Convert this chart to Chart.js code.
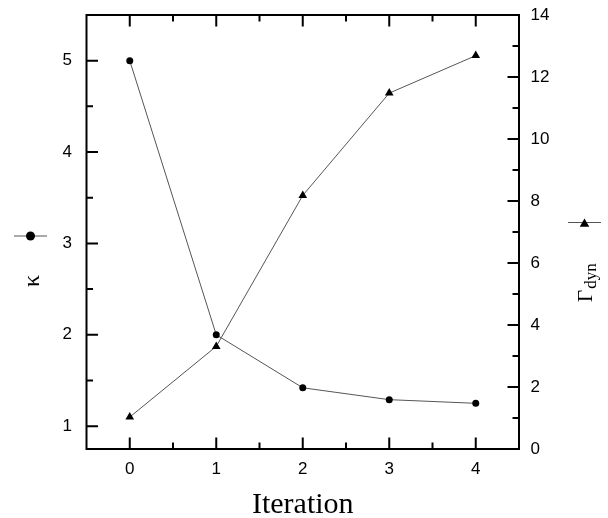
<!DOCTYPE html>
<html><head><meta charset="utf-8">
<script src="https://cdn.jsdelivr.net/npm/chart.js@4"></script>
<style>html,body{margin:0;padding:0;background:#fff}</style>
</head><body>
<canvas id="c" width="608" height="518"></canvas>
<script>
const iterations = [0, 1, 2, 3, 4];
const kappa = [5.0, 2.0, 1.42, 1.29, 1.25];
const gammaDyn = [1.03, 3.31, 8.18, 11.48, 12.69];
const xTicks = [0, 1, 2, 3, 4];
const xMinorTicks = [0.5, 1.5, 2.5, 3.5];
const kappaTicks = [1, 2, 3, 4, 5];
const kappaMinorTicks = [1.5, 2.5, 3.5, 4.5];
const gammaTicks = [0, 2, 4, 6, 8, 10, 12, 14];
const gammaMinorTicks = [1, 3, 5, 7, 9, 11, 13];
const xTitle = 'Iteration';
const kappaTitle = 'κ';
const gammaTitle = 'Γ';
const gammaSub = 'dyn';

const LINE = '#555';
const frameTicks = {
  id: 'frameTicks',
  afterDraw(chart) {
    const ctx = chart.ctx, a = chart.chartArea;
    const sx = chart.scales.x, sk = chart.scales.yK, sg = chart.scales.yG;
    ctx.save();
    ctx.strokeStyle = '#000';
    ctx.lineWidth = 2;
    ctx.strokeRect(a.left, a.top, a.right - a.left, a.bottom - a.top);
    const MAJ = 11.5, MIN = 6.5;
    ctx.beginPath();
    const vt = (v, len) => { const p = sx.getPixelForValue(v);
      ctx.moveTo(p, a.bottom); ctx.lineTo(p, a.bottom - len);
      ctx.moveTo(p, a.top); ctx.lineTo(p, a.top + len); };
    xTicks.forEach(v => vt(v, MAJ)); xMinorTicks.forEach(v => vt(v, MIN));
    const lt = (v, len) => { const p = sk.getPixelForValue(v);
      ctx.moveTo(a.left, p); ctx.lineTo(a.left + len, p); };
    kappaTicks.forEach(v => lt(v, MAJ)); kappaMinorTicks.forEach(v => lt(v, MIN));
    const rt = (v, len) => { const p = sg.getPixelForValue(v);
      ctx.moveTo(a.right, p); ctx.lineTo(a.right - len, p); };
    gammaTicks.forEach(v => rt(v, MAJ)); gammaMinorTicks.forEach(v => rt(v, MIN));
    ctx.stroke();

    // legend symbols beside axis titles
    ctx.lineWidth = 1; ctx.strokeStyle = LINE;
    ctx.beginPath(); ctx.moveTo(14, 236); ctx.lineTo(47, 236);
    ctx.moveTo(568, 222.5); ctx.lineTo(601, 222.5); ctx.stroke();
    ctx.fillStyle = '#000';
    ctx.beginPath(); ctx.arc(30.5, 236, 4.5, 0, Math.PI * 2); ctx.fill();
    ctx.beginPath();
    const tx = 584.5, ty = 224, r = 5.5;
    ctx.moveTo(tx, ty - r); ctx.lineTo(tx + r * 0.866, ty + r * 0.5); ctx.lineTo(tx - r * 0.866, ty + r * 0.5);
    ctx.closePath(); ctx.fill();

    // axis titles (rotated)
    ctx.textAlign = 'left'; ctx.textBaseline = 'alphabetic';
    ctx.save();
    ctx.translate(38.5, 287); ctx.rotate(-Math.PI / 2);
    ctx.font = '24px "Liberation Serif"';
    ctx.fillText(kappaTitle, 0, 0);
    ctx.restore();
    ctx.save();
    ctx.translate(592, 302); ctx.rotate(-Math.PI / 2);
    ctx.font = '21px "Liberation Serif"';
    ctx.fillText(gammaTitle, 0, 0);
    const w = ctx.measureText(gammaTitle).width;
    ctx.font = '17px "Liberation Serif"';
    ctx.fillText(gammaSub, w + 1, 4);
    ctx.restore();
    ctx.restore();
  }
};

const tickFont = { family: 'Liberation Sans', size: 17 };
const noPadY = s => { s.paddingTop = 0; s.paddingBottom = 0; };
new Chart(document.getElementById('c'), {
  type: 'line',
  data: {
    datasets: [
      { label: kappaTitle, data: iterations.map((x, i) => ({ x, y: kappa[i] })),
        xAxisID: 'x', yAxisID: 'yK', borderColor: LINE, borderWidth: 1,
        pointStyle: 'circle', pointRadius: 3.5, pointBackgroundColor: '#000', pointBorderWidth: 0 },
      { label: gammaTitle + gammaSub, data: iterations.map((x, i) => ({ x, y: gammaDyn[i] })),
        xAxisID: 'x', yAxisID: 'yG', borderColor: LINE, borderWidth: 1,
        pointStyle: 'triangle', pointRadius: 5, pointBackgroundColor: '#000', pointBorderWidth: 0 }
    ]
  },
  options: {
    responsive: false, devicePixelRatio: 1, animation: false,
    layout: { padding: { top: 15, left: 0, right: 0, bottom: 0 } },
    plugins: { legend: { display: false }, tooltip: { enabled: false } },
    scales: {
      x: { type: 'linear', position: 'bottom', min: -0.5, max: 4.5,
        grid: { display: false, drawTicks: false }, border: { display: false },
        afterBuildTicks: s => { s.ticks = xTicks.map(v => ({ value: v })); },
        ticks: { padding: 10.5, font: tickFont, color: '#000', maxRotation: 0 },
        title: { display: true, text: xTitle, color: '#000',
          font: { family: 'Liberation Serif', size: 30, lineHeight: 0.8 }, padding: { top: 0, bottom: 1 } },
        afterFit: s => { s.height = 69; s.paddingLeft = 0; s.paddingRight = 0; } },
      yK: { type: 'linear', position: 'left', min: 0.75, max: 5.5,
        grid: { display: false, drawTicks: false }, border: { display: false },
        afterBuildTicks: s => { s.ticks = kappaTicks.map(v => ({ value: v })); },
        ticks: { padding: 14.5, font: tickFont, color: '#000' },
        afterFit: s => { s.width = 86.5; noPadY(s); } },
      yG: { type: 'linear', position: 'right', min: 0, max: 14,
        grid: { display: false, drawTicks: false }, border: { display: false },
        afterBuildTicks: s => { s.ticks = gammaTicks.map(v => ({ value: v })); },
        ticks: { padding: 11.5, font: tickFont, color: '#000' },
        afterFit: s => { s.width = 89; noPadY(s); } }
    }
  },
  plugins: [frameTicks]
});
</script>
</body></html>
